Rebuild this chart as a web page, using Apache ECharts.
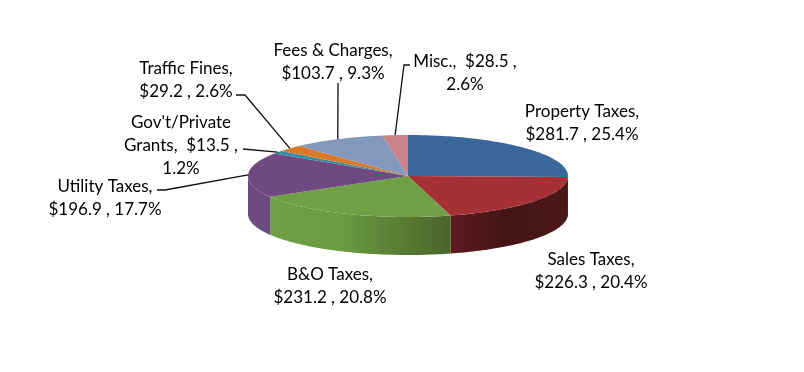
<!DOCTYPE html>
<html>
<head>
<meta charset="utf-8">
<style>
    html, body { margin: 0; padding: 0; background: #fff; }
    #chart { width: 804px; height: 372px; }
</style>
<script src="https://cdn.jsdelivr.net/npm/echarts@6/dist/echarts.min.js"></script>
</head>
<body>
<div id="chart"></div>
<script>
// 数据
let names = ['Property Taxes', 'Sales Taxes', 'B&O Taxes', 'Utility Taxes', "Gov't/Private Grants", 'Traffic Fines', 'Fees & Charges', 'Misc.']
let amounts = [281.7, 226.3, 231.2, 196.9, 13.5, 29.2, 103.7, 28.5]
let percents = ['25.4%', '20.4%', '20.8%', '17.7%', '1.2%', '2.6%', '9.3%', '2.6%']

// 标签文字
let labelTexts = [
    'Property Taxes,\n$281.7 , 25.4%',
    'Sales Taxes,\n$226.3 , 20.4%',
    'B&O Taxes,\n$231.2 , 20.8%',
    'Utility Taxes,\n$196.9 , 17.7%',
    "Gov't/Private\nGrants,  $13.5 ,\n1.2%",
    'Traffic Fines,\n$29.2 , 2.6%',
    'Fees & Charges,\n$103.7 , 9.3%',
    'Misc.,  $28.5 ,\n2.6%'
]

// 样式和布局
let topColors = ['#3b689b', '#a53035', '#70a044', '#6f4a80', '#2f8ea6', '#d97a2b', '#8497bd', '#c98287']
let wallStops = [
    [[0, '#4a1718'], [1, '#4a1718']],
    [[0, '#5e1b1f'], [0.45, '#451516'], [1, '#4a1718']],
    [[0, '#70a044'], [0.4, '#6b9a41'], [1, '#4a6429']],
    [[0, '#6f4a82'], [1, '#6b4a80']]
]
let pie = { cx: 408, cy: 176, rx: 160, ry: 41, depth: 38 }
// 标签中心 [x, 首行y]，引线折点
let labelPos = [[582, 112], [591, 260], [330, 275], [105, 187], [181, 123], [186, 69], [333, 51], [465, 62]]
let leaderPts = [
    null,
    null,
    null,
    [[157, 190], [165, 190]],
    [[243, 149]],
    [[236, 95], [245, 95]],
    [[338, 83]],
    [[410, 65], [404, 65]]
]
const LINE_H = 23

let total = amounts.reduce((a, b) => a + b, 0)
let cum = [0]
amounts.forEach((v, i) => cum.push(cum[i] + v))

function toAngle (v) {
    return v / total * Math.PI * 2
}

// 椭圆上的点，0 在正上方，顺时针
function edgePt (a, dy) {
    return [pie.cx + pie.rx * Math.sin(a), pie.cy - pie.ry * Math.cos(a) + (dy || 0)]
}

function renderSlice (params, api) {
    let i = params.dataIndex
    let a0 = toAngle(cum[i])
    let a1 = toAngle(cum[i] + api.value(0))
    let children = []

    // 侧面，只画前半部分
    let w0 = Math.max(a0, Math.PI / 2)
    let w1 = Math.min(a1, Math.PI * 1.5)
    if (w1 > w0) {
        let pts = []
        for (let k = 0; k <= 60; k++) {
            pts.push(edgePt(w0 + (w1 - w0) * k / 60))
        }
        for (let k = 60; k >= 0; k--) {
            pts.push(edgePt(w0 + (w1 - w0) * k / 60, pie.depth))
        }
        let xs = pts.map(p => p[0])
        children.push({
            type: 'polygon',
            shape: { points: pts },
            style: {
                fill: {
                    type: 'linear',
                    global: true,
                    x: Math.min.apply(null, xs),
                    y: 0,
                    x2: Math.max.apply(null, xs),
                    y2: 0,
                    colorStops: wallStops[i].map(s => ({ offset: s[0], color: s[1] }))
                }
            }
        })
    }

    // 顶面
    let top = [[pie.cx, pie.cy]]
    for (let k = 0; k <= 80; k++) {
        top.push(edgePt(a0 + (a1 - a0) * k / 80))
    }
    children.push({
        type: 'polygon',
        shape: { points: top },
        style: { fill: topColors[i] }
    })

    // 引线
    if (leaderPts[i]) {
        children.push({
            type: 'polyline',
            shape: { points: leaderPts[i].concat([edgePt((a0 + a1) / 2)]) },
            style: { stroke: '#111', lineWidth: 1.3, fill: 'none' }
        })
    }

    // 标签
    labelTexts[i].split('\n').forEach((line, n) => {
        children.push({
            type: 'text',
            style: {
                x: labelPos[i][0],
                y: labelPos[i][1] + n * LINE_H,
                text: line,
                fill: '#000',
                font: '17px Lato',
                align: 'center',
                verticalAlign: 'middle'
            }
        })
    })

    return { type: 'group', children: children }
}

let myChart = echarts.init(document.getElementById('chart'))
myChart.setOption({
    animation: false,
    backgroundColor: '#fff',
    series: [{
        type: 'custom',
        coordinateSystem: 'none',
        renderItem: renderSlice,
        data: amounts.map((v, i) => ({ name: names[i], value: [v, percents[i]] }))
    }]
})
</script>
</body>
</html>
